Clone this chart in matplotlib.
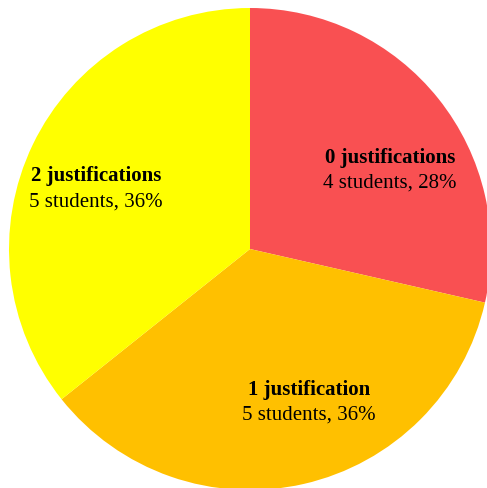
import matplotlib
matplotlib.use("Agg")
import matplotlib.pyplot as plt

# Number of justifications given by students
categories = ["0 justifications", "1 justification", "2 justifications"]
students = [4, 5, 5]
percent_labels = [28, 36, 36]
colors = ["#F95052", "#FFC000", "#FFFF00"]

# Label anchor points (pie radius = 1, centre at origin)
label_pos = [(0.58, 0.362), (0.245, -0.60), (-0.64, 0.285)]

W, H, DPI = 487, 489, 100
fig = plt.figure(figsize=(W / DPI, H / DPI), dpi=DPI)
fig.patch.set_facecolor("white")

# Pie centred at (250, 250) px with radius 241 px
cx, cy, r = 250, 250, 241
ax = fig.add_axes([(cx - r) / W, (H - cy - r) / H, 2 * r / W, 2 * r / H])
ax.pie(students, colors=colors, startangle=90, counterclock=False,
       radius=1, wedgeprops=dict(linewidth=0))
ax.set_xlim(-1, 1)
ax.set_ylim(-1, 1)
ax.set_aspect("equal")
ax.axis("off")

font = "Liberation Serif"
line_gap = 25 / r
for cat, n, pct, (x, y) in zip(categories, students, percent_labels, label_pos):
    ax.text(x, y, cat, ha="center", va="baseline", fontsize=15,
            fontweight="bold", family=font, color="black")
    ax.text(x, y - line_gap, f"{n} students, {pct}%", ha="center",
            va="baseline", fontsize=15, family=font, color="black")

fig.savefig("out.png", dpi=DPI)
